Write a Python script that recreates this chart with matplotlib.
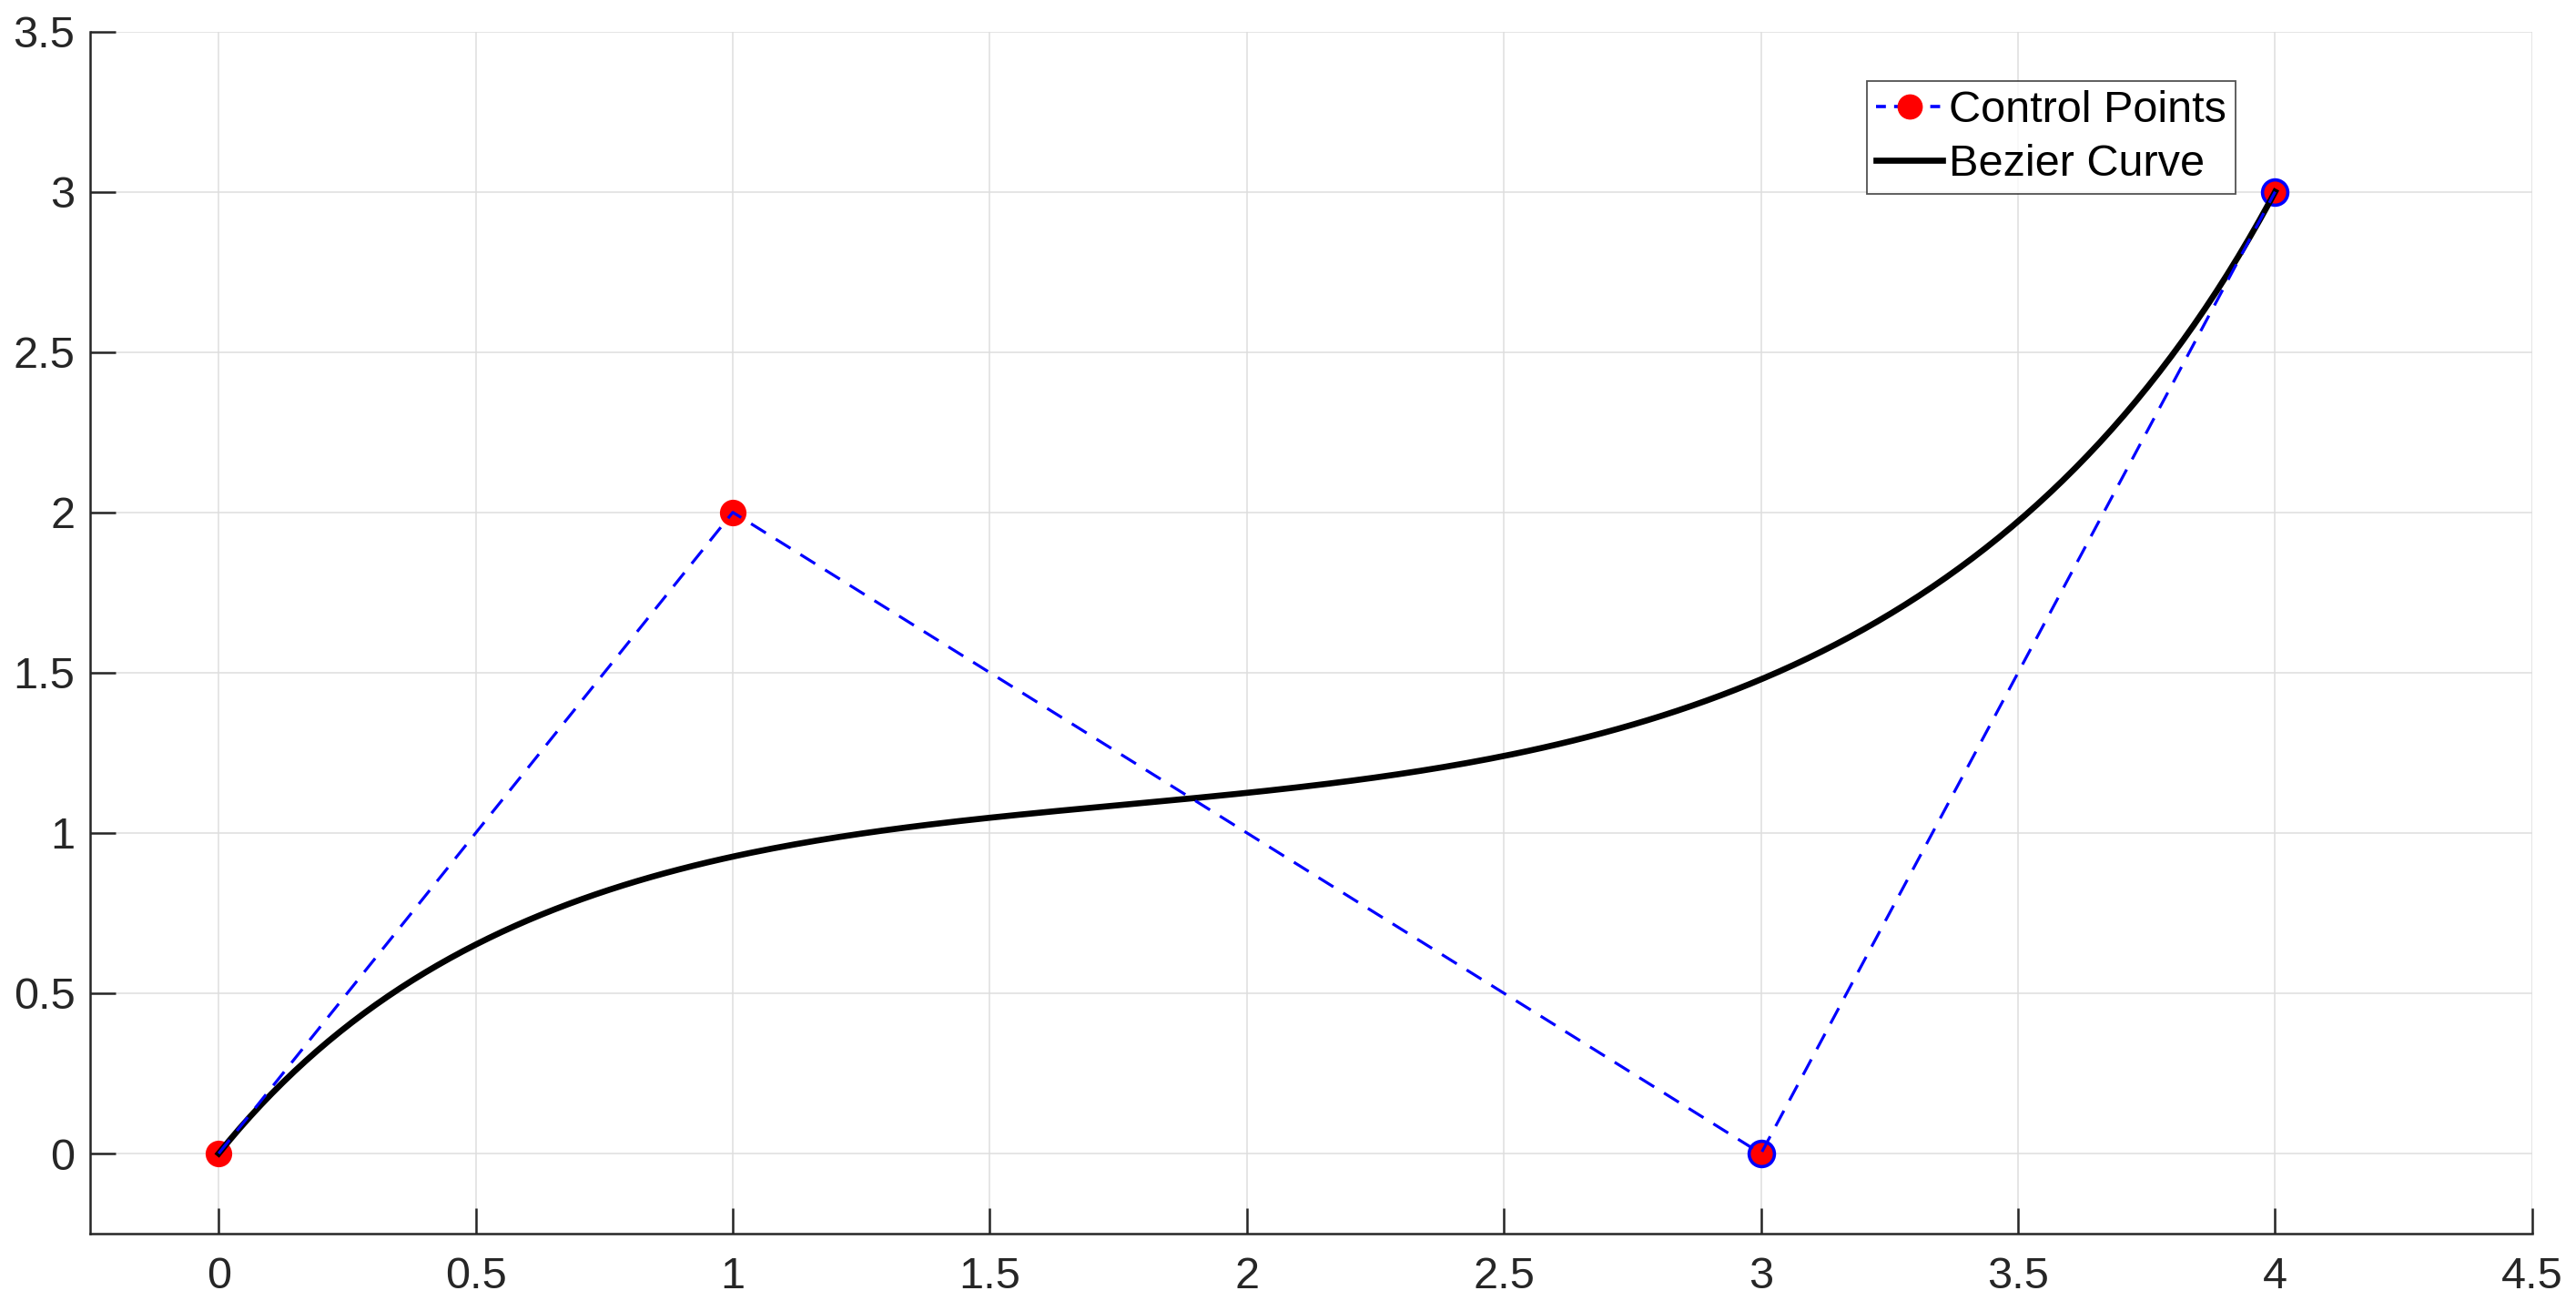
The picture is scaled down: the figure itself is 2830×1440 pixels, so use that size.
import numpy as np
import matplotlib
matplotlib.use('Agg')
import matplotlib.pyplot as plt

plt.rcParams['font.family'] = ['Liberation Sans', 'DejaVu Sans']

# control points of the cubic bezier
px = [0, 1, 3, 4]
py = [0, 2, 0, 3]

xticks = [0, 0.5, 1, 1.5, 2, 2.5, 3, 3.5, 4, 4.5]
yticks = [0, 0.5, 1, 1.5, 2, 2.5, 3, 3.5]

# evaluate the curve from the control points
t = np.linspace(0, 1, 300)
cx = ((1 - t)**3 * px[0] + 3 * (1 - t)**2 * t * px[1]
      + 3 * (1 - t) * t**2 * px[2] + t**3 * px[3])
cy = ((1 - t)**3 * py[0] + 3 * (1 - t)**2 * t * py[1]
      + 3 * (1 - t) * t**2 * py[2] + t**3 * py[3])

fig = plt.figure(figsize=(28.3, 14.4), dpi=100)
ax = fig.add_axes([0.035, 0.059, 0.948, 0.917])

axc = '#262626'
fs = 35

# markers underneath, lines drawn on top like the original
ax.plot(px[:2], py[:2], 'o', ls='none', ms=20, mfc='red', mec='red', zorder=2)
ax.plot(px[2:], py[2:], 'o', ls='none', ms=20, mfc='red', mec='blue', mew=2.6, zorder=2)
ax.plot(cx, cy, color='black', lw=4.8, zorder=3)
ax.plot(px, py, color='blue', lw=2.3, dashes=(6, 4), zorder=4)

# legend proxies
h1, = ax.plot([], [], color='blue', lw=2.6, dashes=(3, 2.5), marker='o',
              ms=19, mfc='red', mec='red')
h2, = ax.plot([], [], color='black', lw=4.8)
leg = ax.legend([h1, h2], ['Control Points', 'Bezier Curve'],
                loc='upper right', bbox_to_anchor=(2456 / 2830, 1 - 89 / 1440),
                bbox_transform=fig.transFigure, fontsize=fs, frameon=True,
                fancybox=False, handlelength=1.5, handletextpad=0.15,
                borderpad=0.2, labelspacing=0.3, borderaxespad=0)
leg.get_frame().set_edgecolor(axc)
leg.get_frame().set_linewidth(1.3)
leg.set_zorder(10)

ax.set_xlim(-0.25, 4.5)
ax.set_ylim(-0.25, 3.5)
ax.set_xticks(xticks)
ax.set_yticks(yticks)
ax.set_xticklabels(['0', '0.5', '1', '1.5', '2', '2.5', '3', '3.5', '4', '4.5'])
ax.set_yticklabels(['0', '0.5', '1', '1.5', '2', '2.5', '3', '3.5'])

ax.grid(True, color='#dedede', lw=1.1)
ax.set_axisbelow(True)
for s in ['top', 'right']:
    ax.spines[s].set_visible(False)
for s in ['left', 'bottom']:
    ax.spines[s].set_color(axc)
    ax.spines[s].set_linewidth(1.8)
ax.tick_params(direction='in', length=20, width=1.8, colors=axc,
               labelsize=fs, labelcolor=axc)
ax.tick_params(axis='y', pad=12)
ax.tick_params(axis='x', pad=18)

fig.savefig('out.png', dpi=100)
